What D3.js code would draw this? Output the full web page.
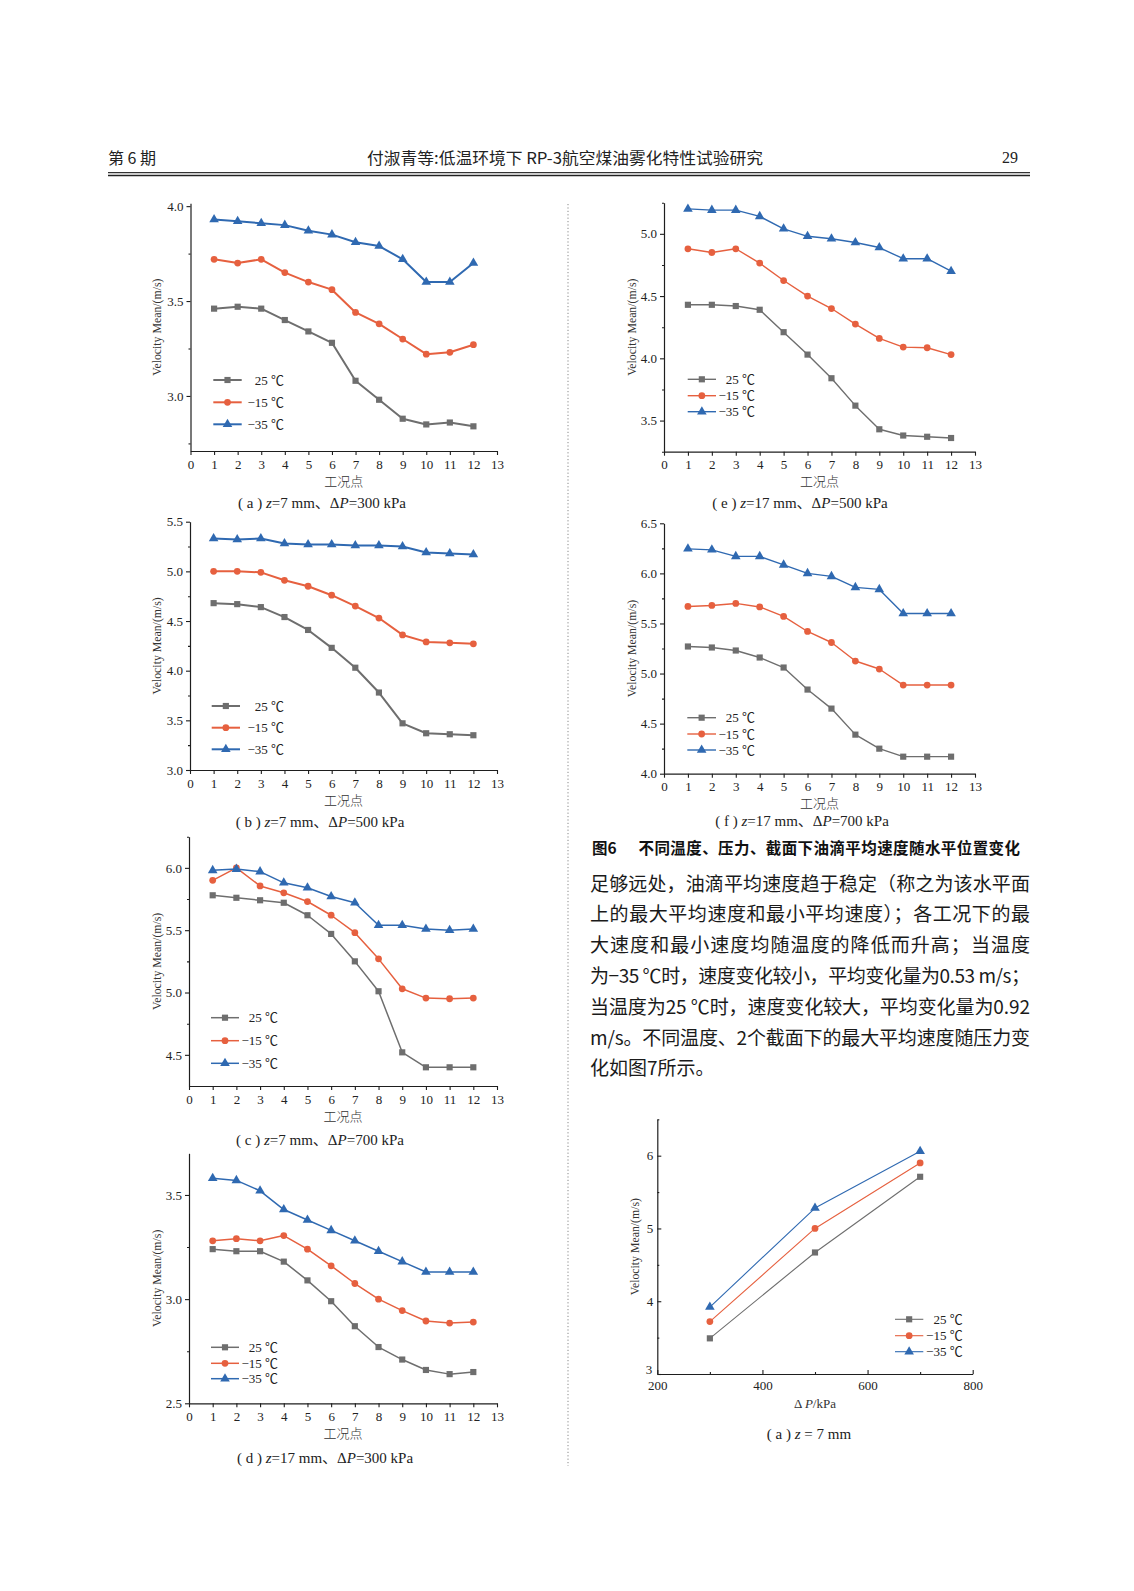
<!DOCTYPE html>
<html><head><meta charset="utf-8">
<script src="https://cdn.jsdelivr.net/npm/d3@7/dist/d3.min.js"></script>
<style>body{margin:0;background:#fff} svg{display:block}</style>
</head><body>
<svg id="c" width="1134" height="1591"></svg>
<script>
// ---------- DATA ----------
const series = ["25 ℃", "−15 ℃", "−35 ℃"];
const points = [1,2,3,4,5,6,7,8,9,10,11,12];
const xTicks = [0,1,2,3,4,5,6,7,8,9,10,11,12,13];

const a25 = [3.46,3.47,3.46,3.40,3.34,3.28,3.08,2.98,2.88,2.85,2.86,2.84];
const a15 = [3.72,3.70,3.72,3.65,3.60,3.56,3.44,3.38,3.30,3.22,3.23,3.27];
const a35 = [3.93,3.92,3.91,3.90,3.87,3.85,3.81,3.79,3.72,3.60,3.60,3.70];

const b25 = [4.68,4.67,4.64,4.54,4.41,4.23,4.03,3.78,3.47,3.37,3.36,3.35];
const b15 = [5.00,5.00,4.99,4.91,4.85,4.76,4.65,4.53,4.36,4.29,4.28,4.27];
const b35 = [5.33,5.32,5.33,5.28,5.27,5.27,5.26,5.26,5.25,5.19,5.18,5.17];

const c25 = [5.78,5.76,5.74,5.72,5.62,5.47,5.25,5.01,4.52,4.40,4.40,4.40];
const c15 = [5.90,6.00,5.855,5.80,5.73,5.62,5.48,5.27,5.03,4.955,4.95,4.955];
const c35 = [5.98,5.99,5.97,5.88,5.84,5.77,5.72,5.54,5.54,5.51,5.50,5.51];

const d25 = [3.24,3.23,3.23,3.18,3.09,2.99,2.87,2.77,2.71,2.66,2.64,2.65];
const d15 = [3.28,3.29,3.28,3.305,3.24,3.16,3.075,3.00,2.945,2.895,2.885,2.89];
const d35 = [3.58,3.57,3.52,3.43,3.38,3.33,3.28,3.23,3.18,3.13,3.13,3.13];

const e25 = [4.43,4.43,4.42,4.39,4.21,4.03,3.84,3.62,3.43,3.38,3.37,3.36];
const e15 = [4.88,4.85,4.88,4.765,4.625,4.50,4.40,4.275,4.16,4.09,4.085,4.03];
const e35 = [5.20,5.19,5.19,5.14,5.04,4.98,4.96,4.93,4.89,4.80,4.80,4.70];

const f25 = [5.27,5.26,5.23,5.16,5.06,4.84,4.65,4.39,4.25,4.17,4.17,4.17];
const f15 = [5.67,5.68,5.70,5.665,5.57,5.42,5.31,5.125,5.045,4.885,4.885,4.885];
const f35 = [6.245,6.235,6.17,6.17,6.085,6.00,5.97,5.86,5.84,5.60,5.60,5.60];

const pressures = [300,500,700];
const p25 = [3.49,4.67,5.71];
const p15 = [3.72,5.00,5.90];
const p35 = [3.92,5.28,6.06];
const pTicks = [200,400,600,800];
const pMinor = [300,500,700];
const vTicks7 = [3,4,5,6];
const vMinor7 = [3.5,4.5,5.5,6.5];

const paragraph = [
  "足够远处，油滴平均速度趋于稳定（称之为该水平面",
  "上的最大平均速度和最小平均速度）；各工况下的最",
  "大速度和最小速度均随温度的降低而升高；当温度",
  "为−35 ℃时，速度变化较小，平均变化量为0.53 m/s；",
  "当温度为25 ℃时，速度变化较大，平均变化量为0.92",
  "m/s。不同温度、2个截面下的最大平均速度随压力变",
  "化如图7所示。"
];

// ---------- STYLE ----------
const svg = d3.select("#c");
svg.append("rect").attr("width",1134).attr("height",1591).attr("fill","#fff");
const SERIF = "'Liberation Serif','Times New Roman','Noto Sans CJK SC',serif";
const CJK = "'Noto Sans CJK SC','Noto Sans CJK JP',sans-serif";
const AX = "#1e1e1e";
const COL = ["#6e6e6e","#e6603f","#2f69b1"];
const SYM = [d3.symbolSquare, d3.symbolCircle, d3.symbolTriangle];
const SYMSIZE = [38, 36, 40];
const TICKFS = 13;

function styleAxis(sel, fs) {
  sel.attr("font-family", null).attr("font-size", null);
  sel.select(".domain").attr("stroke", AX).attr("stroke-width", 1.2);
  sel.selectAll(".tick line").attr("stroke", AX).attr("stroke-width", 1.1);
  sel.selectAll(".tick text").attr("font-family", SERIF).attr("font-size", fs).attr("fill", "#222");
}

function drawSeries(g, x, y, xs, vals, i, lw) {
  const line = d3.line().x((d,k)=>x(xs[k])).y(d=>y(d));
  g.append("path").attr("d", line(vals)).attr("fill","none")
    .attr("stroke", COL[i]).attr("stroke-width", lw).attr("stroke-linejoin","round");
  g.selectAll(null).data(vals).join("path")
    .attr("transform", (d,k)=>`translate(${x(xs[k])},${y(d)})`)
    .attr("d", d3.symbol().type(SYM[i]).size(SYMSIZE[i]))
    .attr("fill", COL[i]);
}

function legend(g, L, lw) {
  series.forEach((s,i)=>{
    const yy = L.ys[i];
    g.append("line").attr("x1",L.x1).attr("x2",L.x2).attr("y1",yy).attr("y2",yy)
      .attr("stroke",COL[i]).attr("stroke-width",lw);
    g.append("path").attr("transform",`translate(${(L.x1+L.x2)/2},${yy})`)
      .attr("d", d3.symbol().type(SYM[i]).size(SYMSIZE[i])).attr("fill",COL[i]);
    g.append("text").attr("x",L.end).attr("y",yy).attr("text-anchor","end")
      .attr("dominant-baseline","central").attr("font-family",SERIF)
      .attr("font-size",13).attr("fill","#222").text(s);
  });
}

function yTitle(g, x, cy) {
  g.append("text").attr("transform",`translate(${x},${cy}) rotate(-90)`)
    .attr("text-anchor","middle").attr("dominant-baseline","central")
    .attr("font-family",SERIF).attr("font-size",11.8).attr("fill","#333")
    .text("Velocity Mean/(m/s)");
}

function caption(g, cx, cy, lab, z, p) {
  const t = g.append("text").attr("x",cx).attr("y",cy).attr("text-anchor","middle")
    .attr("dominant-baseline","central").attr("font-family",SERIF).attr("font-size",15).attr("fill","#222");
  t.append("tspan").text(`( ${lab} ) `);
  t.append("tspan").attr("font-style","italic").text("z");
  if (p) {
    t.append("tspan").text(`=${z} mm、Δ`);
    t.append("tspan").attr("font-style","italic").text("P");
    t.append("tspan").text(`=${p} kPa`);
  } else {
    t.append("tspan").text(` = ${z} mm`);
  }
}

// ---------- FIGURE 6 PANELS ----------
const panels = [
  {l:190.5,r:497,t:203.3,b:451,dom:[2.71,4.015],major:[3.0,3.5,4.0],minor:[2.75,3.25,3.75],
   data:[a25,a15,a35],lw:2,tx:157,leg:{x1:213.3,x2:241.7,end:284,ys:[380,402.3,424.3]},
   cap:[322,503,"a","7","300"]},
  {l:190,r:497,t:521.7,b:770,dom:[3.0,5.5],major:[3.0,3.5,4.0,4.5,5.0,5.5],minor:[3.25,3.75,4.25,4.75,5.25],
   data:[b25,b15,b35],lw:2,tx:157,leg:{x1:211.7,x2:240,end:284,ys:[706,727.7,749.3]},
   cap:[320,822,"b","7","500"]},
  {l:189,r:497,t:836.7,b:1086,dom:[4.25,6.25],major:[4.5,5.0,5.5,6.0],minor:[4.75,5.25,5.75,6.25],
   data:[c25,c15,c35],lw:1.5,tx:157,leg:{x1:211,x2:239,end:278,ys:[1017.7,1040.7,1063.3]},
   cap:[320,1140,"c","7","700"]},
  {l:189,r:497,t:1153.3,b:1403.3,dom:[2.5,3.7],major:[2.5,3.0,3.5],minor:[2.75,3.25],
   data:[d25,d15,d35],lw:1.5,tx:157,leg:{x1:211,x2:239,end:278,ys:[1347.3,1363.3,1378.7]},
   cap:[325,1458,"d","17","300"]},
  {l:664,r:975,t:202.7,b:451.7,dom:[3.25,5.25],major:[3.5,4.0,4.5,5.0],minor:[3.25,3.75,4.25,4.75,5.25],
   data:[e25,e15,e35],lw:1.4,tx:631.7,leg:{x1:687.7,x2:716,end:755,ys:[379.3,395.7,411.7]},
   cap:[800,503,"e","17","500"]},
  {l:664,r:975,t:523.3,b:773.7,dom:[4.0,6.5],major:[4.0,4.5,5.0,5.5,6.0,6.5],minor:[4.25,4.75,5.25,5.75,6.25],
   data:[f25,f15,f35],lw:1.4,tx:631.7,leg:{x1:687.3,x2:716,end:755,ys:[717.7,734,750]},
   cap:[802,821,"f","17","700"]}
];

panels.forEach(P=>{
  const g = svg.append("g");
  const x = d3.scaleLinear().domain([0,13]).range([P.l,P.r]);
  const y = d3.scaleLinear().domain(P.dom).range([P.b,P.t]);
  const gx = g.append("g").attr("transform",`translate(0,${P.b})`)
    .call(d3.axisBottom(x).tickValues(xTicks).tickSize(4).tickSizeOuter(0).tickPadding(4.5).tickFormat(d3.format("d")));
  styleAxis(gx, TICKFS);
  const gy = g.append("g").attr("transform",`translate(${P.l},0)`)
    .call(d3.axisLeft(y).tickValues(P.major).tickSize(4).tickSizeOuter(0).tickPadding(3).tickFormat(d3.format(".1f")));
  styleAxis(gy, TICKFS);
  const gm = g.append("g").attr("transform",`translate(${P.l},0)`)
    .call(d3.axisLeft(y).tickValues(P.minor).tickSize(2).tickSizeOuter(0).tickFormat(""));
  styleAxis(gm, TICKFS);
  gm.select(".domain").remove();
  P.data.forEach((vals,i)=>drawSeries(g, x, y, points, vals, i, P.lw));
  legend(g, P.leg, P.lw);
  yTitle(g, P.tx, (P.t+P.b)/2);
  g.append("text").attr("x",(P.l+P.r)/2).attr("y",P.b+29).attr("text-anchor","middle")
    .attr("dominant-baseline","central").attr("font-family",CJK).attr("font-size",13)
    .attr("font-weight",300).attr("fill","#333").text("工况点");
  caption(g, ...P.cap);
});

// ---------- FIGURE 7a ----------
(function(){
  const g = svg.append("g");
  const L=657.3,R=972.7,T=1119.3,B=1374;
  const x = d3.scaleLinear().domain([200,800]).range([L,R]);
  const y = d3.scaleLinear().domain([3,6.5]).range([B,T]);
  const gx = g.append("g").attr("transform",`translate(0,${B})`)
    .call(d3.axisBottom(x).tickValues(pTicks).tickSize(-4).tickSizeOuter(0).tickPadding(7).tickFormat(d3.format("d")));
  styleAxis(gx, TICKFS);
  const gxm = g.append("g").attr("transform",`translate(0,${B})`)
    .call(d3.axisBottom(x).tickValues(pMinor).tickSize(-2).tickSizeOuter(0).tickFormat(""));
  styleAxis(gxm, TICKFS); gxm.select(".domain").remove();
  const gy = g.append("g").attr("transform",`translate(${L},0)`)
    .call(d3.axisLeft(y).tickValues(vTicks7).tickSize(-4).tickSizeOuter(0).tickPadding(4).tickFormat(d3.format("d")));
  styleAxis(gy, TICKFS);
  // the bottom "3" sits just above the "200" label
  gy.selectAll(".tick text").filter(d=>d===3).attr("y",-4.5).attr("x",-5);
  const gym = g.append("g").attr("transform",`translate(${L},0)`)
    .call(d3.axisLeft(y).tickValues(vMinor7).tickSize(-2).tickSizeOuter(0).tickFormat(""));
  styleAxis(gym, TICKFS); gym.select(".domain").remove();
  [p25,p15,p35].forEach((vals,i)=>drawSeries(g, x, y, pressures, vals, i, 1.1));
  legend(g, {x1:895,x2:923.3,end:962.7,ys:[1319.3,1335.7,1351.7]}, 1.1);
  yTitle(g, 635, (T+B)/2);
  const t = g.append("text").attr("x",(L+R)/2).attr("y",1403.3).attr("text-anchor","middle")
    .attr("dominant-baseline","central").attr("font-family",SERIF).attr("font-size",13).attr("fill","#333");
  t.append("tspan").text("Δ ");
  t.append("tspan").attr("font-style","italic").text("P");
  t.append("tspan").text("/kPa");
  caption(g, 809, 1434, "a", "7", null);
})();

// ---------- PAGE TEXT ----------
svg.append("text").attr("x",108).attr("y",157).attr("dominant-baseline","central")
  .attr("font-family",CJK).attr("font-size",16).attr("font-weight",400).attr("fill","#222").text("第 6 期");
svg.append("text").attr("x",367).attr("y",157).attr("dominant-baseline","central")
  .attr("font-family",CJK).attr("font-size",16).attr("font-weight",400).attr("fill","#222")
  .attr("textLength",396).attr("lengthAdjust","spacingAndGlyphs")
  .text("付淑青等:低温环境下 RP-3航空煤油雾化特性试验研究");
svg.append("text").attr("x",1018).attr("y",157).attr("text-anchor","end").attr("dominant-baseline","central")
  .attr("font-family",SERIF).attr("font-size",16).attr("fill","#222").text("29");
svg.append("line").attr("x1",108).attr("x2",1030).attr("y1",172.7).attr("y2",172.7).attr("stroke","#333").attr("stroke-width",1.2);
svg.append("line").attr("x1",108).attr("x2",1030).attr("y1",175.5).attr("y2",175.5).attr("stroke","#222").attr("stroke-width",1.4);

// separator
svg.append("line").attr("x1",568).attr("x2",568).attr("y1",204).attr("y2",1466)
  .attr("stroke","#888").attr("stroke-width",1).attr("stroke-dasharray","1.2,2.2");

// figure 6 caption
svg.append("text").attr("x",592).attr("y",846.7).attr("dominant-baseline","central")
  .attr("font-family",CJK).attr("font-size",15.5).attr("font-weight",700).attr("fill","#111").text("图6");
svg.append("text").attr("x",638.5).attr("y",846.7).attr("dominant-baseline","central")
  .attr("font-family",CJK).attr("font-size",15.5).attr("font-weight",700).attr("fill","#111")
  .attr("textLength",381.5).attr("lengthAdjust","spacing")
  .text("不同温度、压力、截面下油滴平均速度随水平位置变化");

// paragraph
paragraph.forEach((line,i)=>{
  const t = svg.append("text").attr("x",590).attr("y",882+i*30.8).attr("dominant-baseline","central")
    .attr("font-family",CJK).attr("font-size",19).attr("font-weight",400).attr("fill","#1a1a1a").text(line);
  if (i < paragraph.length-1) t.attr("textLength",440).attr("lengthAdjust","spacing");
});
</script>
</body></html>
